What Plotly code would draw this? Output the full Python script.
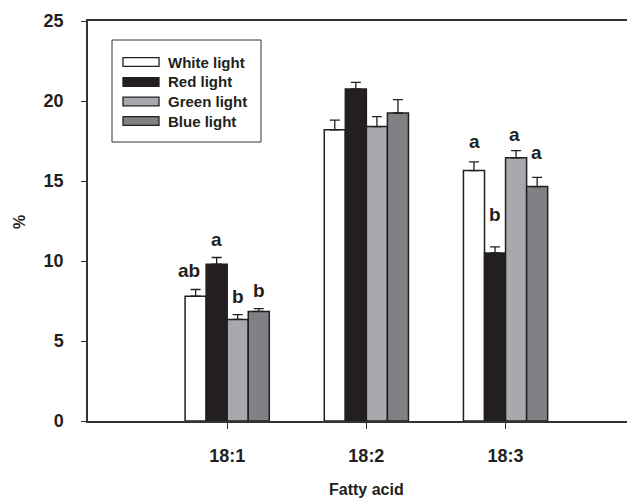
import plotly.graph_objects as go

categories = ["18:1", "18:2", "18:3"]
series_names = ["White light", "Red light", "Green light", "Blue light"]
white_vals = [7.8, 18.2, 15.65]
red_vals = [9.8, 20.75, 10.5]
green_vals = [6.35, 18.4, 16.45]
blue_vals = [6.85, 19.25, 14.65]
white_err = [0.42, 0.6, 0.55]
red_err = [0.42, 0.42, 0.38]
green_err = [0.3, 0.62, 0.45]
blue_err = [0.17, 0.83, 0.58]
white_letters = ["ab", "", "a"]
red_letters = ["a", "", "b"]
green_letters = ["b", "", "a"]
blue_letters = ["b", "", "a"]

values = [white_vals, red_vals, green_vals, blue_vals]
errors = [white_err, red_err, green_err, blue_err]
letters = [white_letters, red_letters, green_letters, blue_letters]
colors = ["#ffffff", "#231f20", "#a7a9ac", "#7f8184"]
# pixel gaps between error-bar top and letter (style)
gaps = [[10, 0, 12], [9, 0, 24], [10, 0, 8], [10, 0, 16]]
xshifts = [[-7, 0, 0], [0, 0, 0], [0, 0, -2], [0, 0, 0]]

FONT = "Liberation Sans, Arial, sans-serif"
TXT = "#231f20"

# page is rendered with an 8px body margin
OFF = 8
W, H = 635 - OFF, 498 - OFF
PL, PR, PT, PB = 88, 635, 21, 421  # plot area in page pixels
L, T = PL - OFF, PT - OFF
R = (OFF + W) - PR
B = (OFF + H) - PB
PW, PH = PR - PL, PB - PT

def px(x):
    return (x - PL) / PW

def py(y):
    return (PB - y) / PH

fig = go.Figure()
for i, name in enumerate(series_names):
    fig.add_trace(go.Bar(
        x=categories, y=values[i], name=name,
        marker=dict(color=colors[i], line=dict(color="#231f20", width=1.5)),
        error_y=dict(type="data", array=errors[i], arrayminus=[0] * len(categories),
                     symmetric=False, color="#231f20", thickness=1.3, width=5),
        showlegend=False,
    ))

offsets = [-0.225, -0.075, 0.075, 0.225]
annotations = []
for i in range(len(series_names)):
    for j in range(len(categories)):
        if letters[i][j]:
            annotations.append(dict(
                x=j + offsets[i], y=values[i][j] + errors[i][j], xref="x", yref="y",
                text=letters[i][j], showarrow=False, yanchor="bottom",
                yshift=gaps[i][j] - 4, xshift=xshifts[i][j],
                font=dict(family=FONT, size=19, color=TXT, weight="bold"),
            ))

# manual legend
shapes = [dict(type="rect", xref="paper", yref="paper",
               x0=px(112), x1=px(261), y0=py(142), y1=py(40),
               line=dict(color="#333333", width=1), fillcolor="rgba(0,0,0,0)")]
row_y = [62, 82, 101.5, 121]
for i, name in enumerate(series_names):
    shapes.append(dict(type="rect", xref="paper", yref="paper",
                       x0=px(123), x1=px(159), y0=py(row_y[i] + 4.3), y1=py(row_y[i] - 4.3),
                       line=dict(color="#231f20", width=1.3), fillcolor=colors[i]))
    annotations.append(dict(x=px(166), y=py(row_y[i]), xref="paper", yref="paper",
                            text=name, showarrow=False, xanchor="left", yanchor="middle",
                            font=dict(family=FONT, size=15, color=TXT, weight="bold")))

annotations.append(dict(x=px(366), y=py(490), xref="paper", yref="paper", text="Fatty acid",
                        showarrow=False, xanchor="center", yanchor="middle",
                        font=dict(family=FONT, size=16, color=TXT, weight="bold")))
annotations.append(dict(x=px(20), y=py(222), xref="paper", yref="paper", text="%",
                        showarrow=False, xanchor="center", yanchor="middle", textangle=-90,
                        font=dict(family=FONT, size=16, color=TXT, weight="bold")))

fig.update_layout(
    width=W, height=H,
    margin=dict(l=L, r=R, t=T, b=B),
    plot_bgcolor="white", paper_bgcolor="white",
    barmode="group", bargap=0.395, bargroupgap=0,
    shapes=shapes, annotations=annotations,
    font=dict(family=FONT, color=TXT),
)
fig.update_xaxes(
    type="category", range=[-1.0, 2.93],
    showline=True, linecolor="#333333", linewidth=1.5, mirror=True,
    ticks="outside", ticklen=6, tickwidth=1, tickcolor="#333333",
    ticklabelstandoff=12, showgrid=False, zeroline=False,
    tickfont=dict(family=FONT, size=18, color=TXT, weight="bold"),
)
fig.update_yaxes(
    range=[0, 25], tickvals=[0, 5, 10, 15, 20, 25],
    showline=True, linecolor="#333333", linewidth=1.5, mirror=False,
    ticks="outside", ticklen=5, tickwidth=1, tickcolor="#333333",
    ticklabelstandoff=14, showgrid=False, zeroline=False,
    tickfont=dict(family=FONT, size=18, color=TXT, weight="bold"),
)

fig.write_html("out.html")
